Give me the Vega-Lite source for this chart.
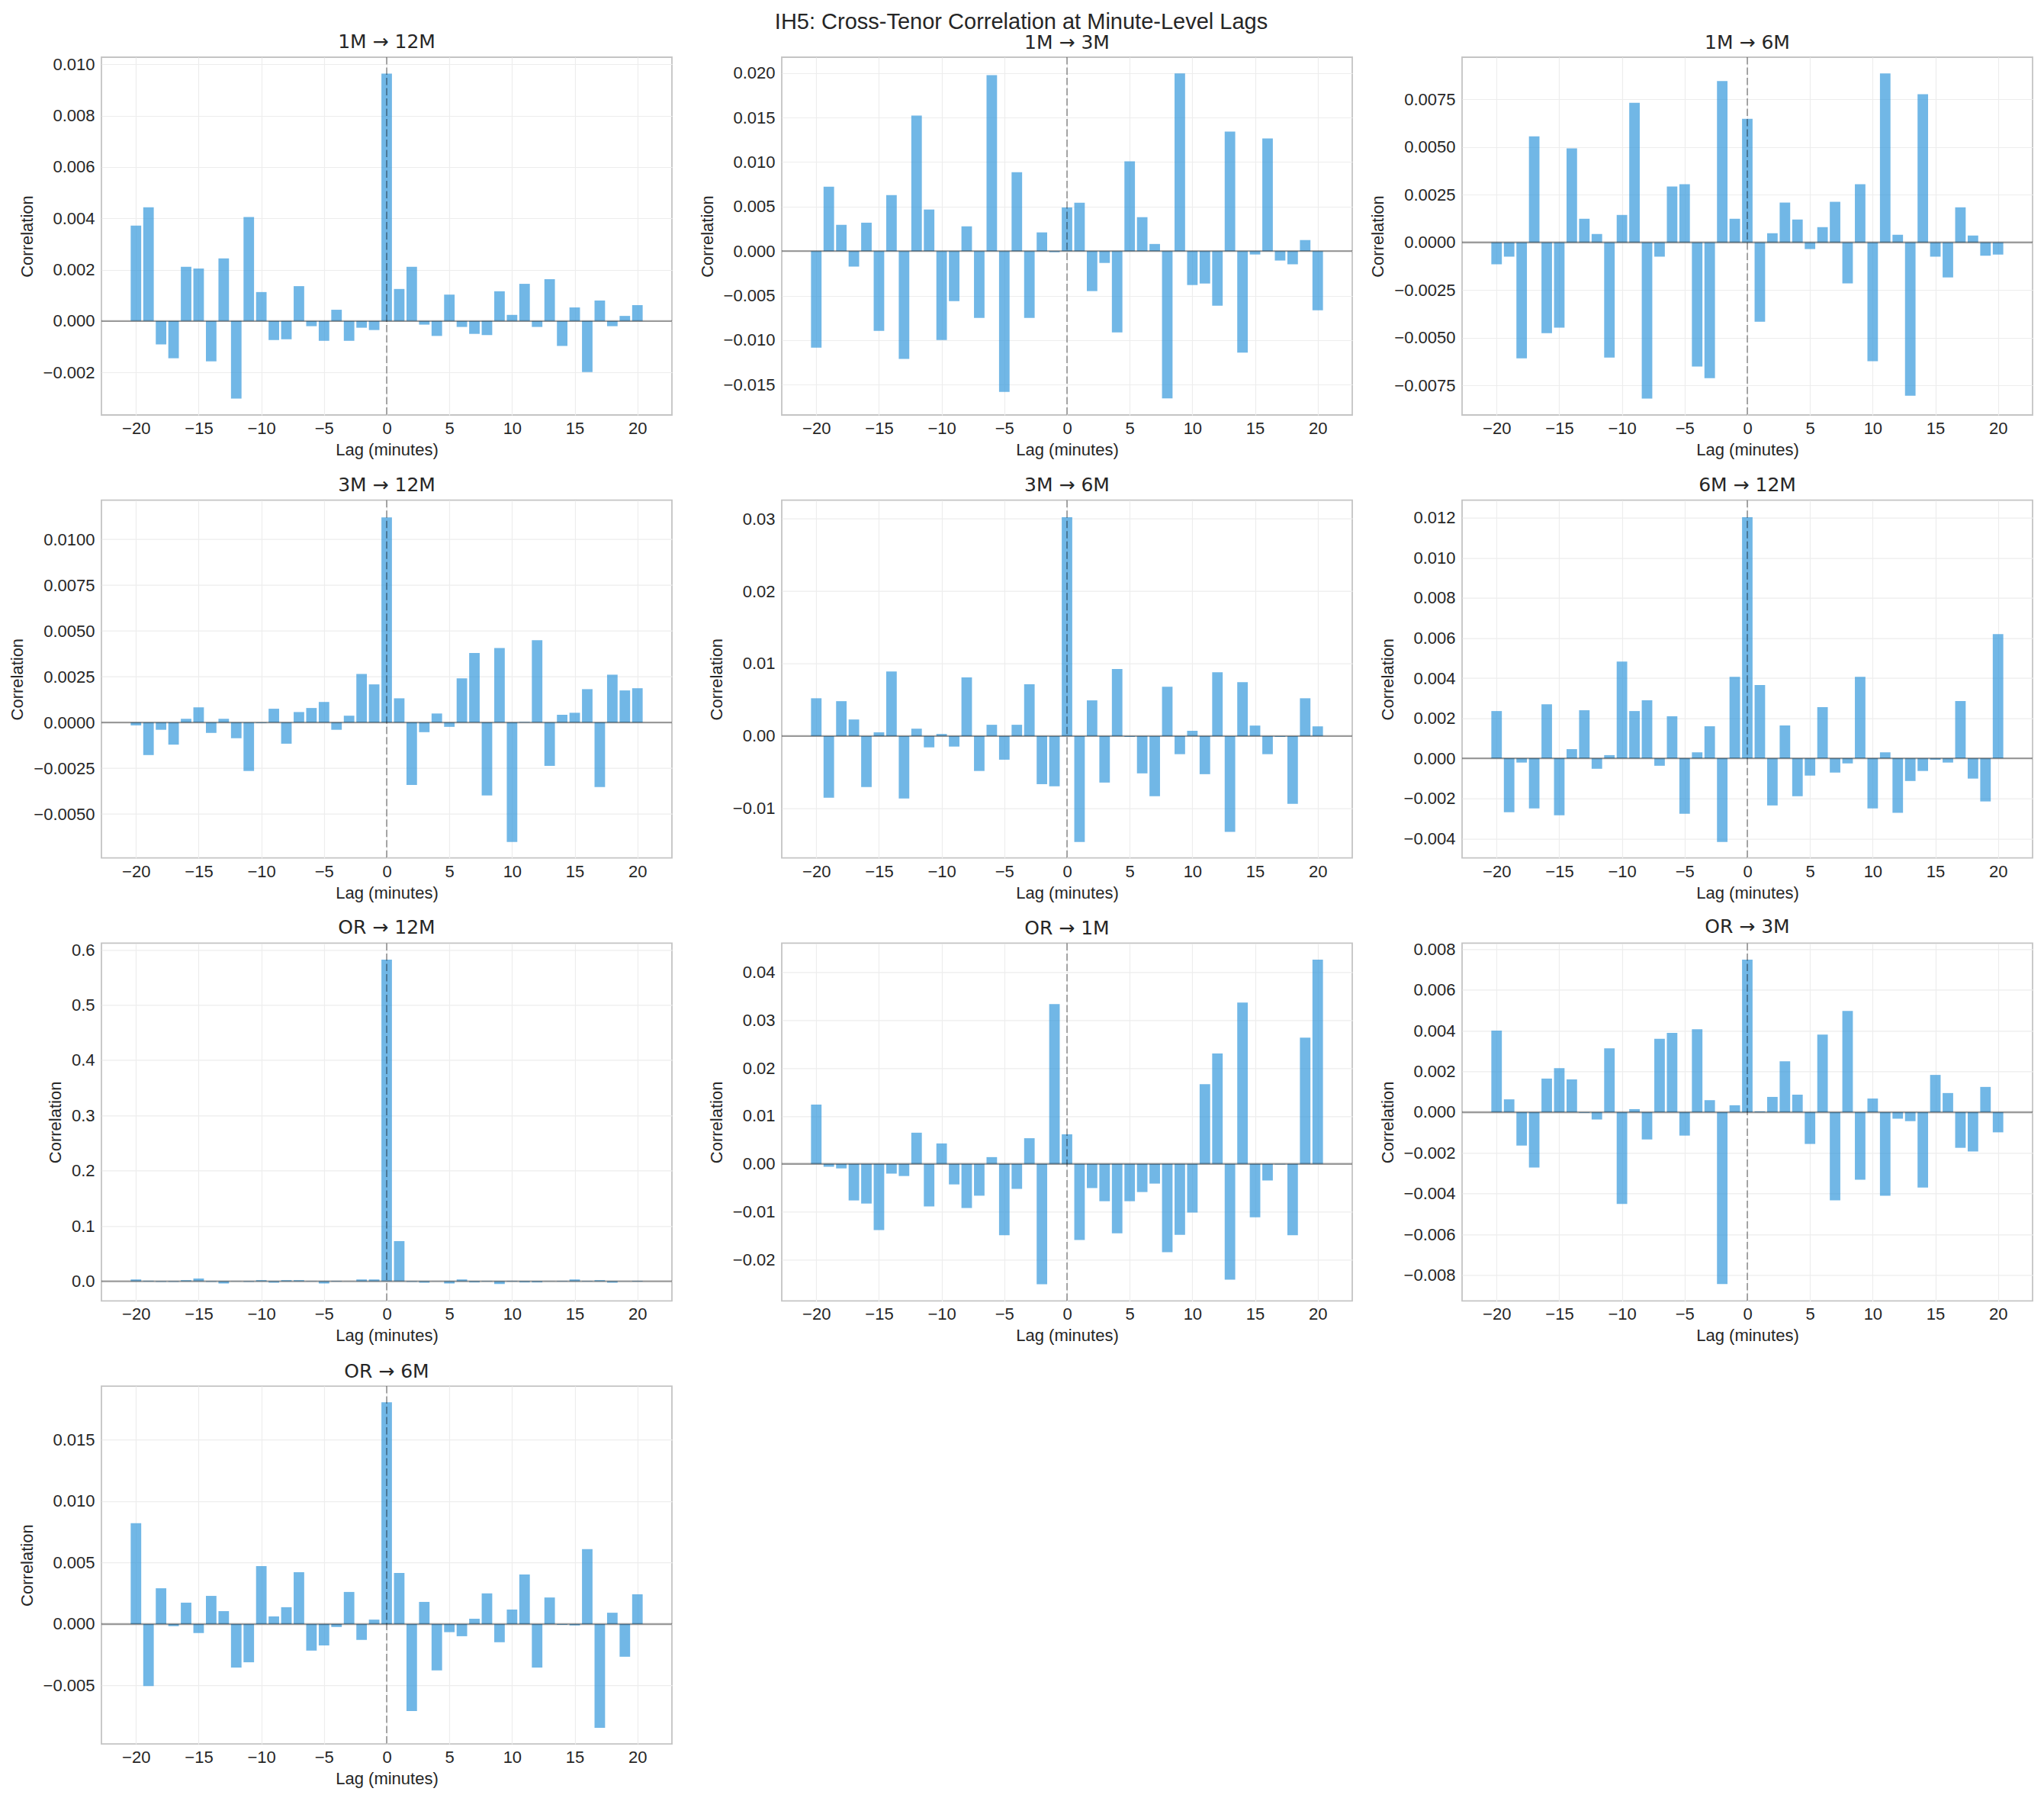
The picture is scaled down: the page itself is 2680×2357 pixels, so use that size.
{
  "$schema": "https://vega.github.io/schema/vega-lite/v6.json",
  "background": "white",
  "padding": {"left": 10, "top": 15, "right": 4, "bottom": 8},
  "title": {
    "text": "IH5: Cross-Tenor Correlation at Minute-Level Lags",
    "font": "Liberation Sans",
    "fontSize": 29,
    "anchor": "middle",
    "frame": "bounds",
    "baseline": "alphabetic",
    "offset": -25
  },
  "datasets": {
    "ref": [{"v": 0}],
    "p1": [
      {"lag": -20, "r": 0.00372}, {"lag": -19, "r": 0.00443}, {"lag": -18, "r": -0.00091}, {"lag": -17, "r": -0.00145}, {"lag": -16, "r": 0.00211},
      {"lag": -15, "r": 0.00205}, {"lag": -14, "r": -0.00157}, {"lag": -13, "r": 0.00244}, {"lag": -12, "r": -0.00302}, {"lag": -11, "r": 0.00405},
      {"lag": -10, "r": 0.00113}, {"lag": -9, "r": -0.00074}, {"lag": -8, "r": -0.00071}, {"lag": -7, "r": 0.00136}, {"lag": -6, "r": -0.0002},
      {"lag": -5, "r": -0.00077}, {"lag": -4, "r": 0.00044}, {"lag": -3, "r": -0.00077}, {"lag": -2, "r": -0.00026}, {"lag": -1, "r": -0.00035},
      {"lag": 0, "r": 0.00964}, {"lag": 1, "r": 0.00125}, {"lag": 2, "r": 0.00211}, {"lag": 3, "r": -0.00014}, {"lag": 4, "r": -0.00058},
      {"lag": 5, "r": 0.00103}, {"lag": 6, "r": -0.00023}, {"lag": 7, "r": -0.0005}, {"lag": 8, "r": -0.00055}, {"lag": 9, "r": 0.00116},
      {"lag": 10, "r": 0.00024}, {"lag": 11, "r": 0.00145}, {"lag": 12, "r": -0.00023}, {"lag": 13, "r": 0.00163}, {"lag": 14, "r": -0.00097},
      {"lag": 15, "r": 0.00053}, {"lag": 16, "r": -0.00199}, {"lag": 17, "r": 0.0008}, {"lag": 18, "r": -0.0002}, {"lag": 19, "r": 0.0002},
      {"lag": 20, "r": 0.00062}
    ],
    "p2": [
      {"lag": -20, "r": -0.01084}, {"lag": -19, "r": 0.00724}, {"lag": -18, "r": 0.00295}, {"lag": -17, "r": -0.00174}, {"lag": -16, "r": 0.00319},
      {"lag": -15, "r": -0.00895}, {"lag": -14, "r": 0.00629}, {"lag": -13, "r": -0.01211}, {"lag": -12, "r": 0.01521}, {"lag": -11, "r": 0.00467},
      {"lag": -10, "r": -0.00999}, {"lag": -9, "r": -0.00561}, {"lag": -8, "r": 0.00278}, {"lag": -7, "r": -0.0075}, {"lag": -6, "r": 0.01976},
      {"lag": -5, "r": -0.0158}, {"lag": -4, "r": 0.00886}, {"lag": -3, "r": -0.0075}, {"lag": -2, "r": 0.0021}, {"lag": -1, "r": -0.00012},
      {"lag": 0, "r": 0.0049}, {"lag": 1, "r": 0.00544}, {"lag": 2, "r": -0.00449}, {"lag": 3, "r": -0.00133}, {"lag": 4, "r": -0.00913},
      {"lag": 5, "r": 0.01007}, {"lag": 6, "r": 0.00381}, {"lag": 7, "r": 0.0008}, {"lag": 8, "r": -0.01654}, {"lag": 9, "r": 0.01994},
      {"lag": 10, "r": -0.00381}, {"lag": 11, "r": -0.00364}, {"lag": 12, "r": -0.00612}, {"lag": 13, "r": 0.01341}, {"lag": 14, "r": -0.0114},
      {"lag": 15, "r": -0.00038}, {"lag": 16, "r": 0.01264}, {"lag": 17, "r": -0.00106}, {"lag": 18, "r": -0.00148}, {"lag": 19, "r": 0.00124},
      {"lag": 20, "r": -0.00665}
    ],
    "p3": [
      {"lag": -20, "r": -0.00115}, {"lag": -19, "r": -0.00075}, {"lag": -18, "r": -0.00609}, {"lag": -17, "r": 0.00557}, {"lag": -16, "r": -0.00477},
      {"lag": -15, "r": -0.00448}, {"lag": -14, "r": 0.00493}, {"lag": -13, "r": 0.00124}, {"lag": -12, "r": 0.00044}, {"lag": -11, "r": -0.00605},
      {"lag": -10, "r": 0.00144}, {"lag": -9, "r": 0.00733}, {"lag": -8, "r": -0.0082}, {"lag": -7, "r": -0.00075}, {"lag": -6, "r": 0.00293},
      {"lag": -5, "r": 0.00305}, {"lag": -4, "r": -0.00652}, {"lag": -3, "r": -0.00713}, {"lag": -2, "r": 0.00847}, {"lag": -1, "r": 0.00124},
      {"lag": 0, "r": 0.00649}, {"lag": 1, "r": -0.00416}, {"lag": 2, "r": 0.00048}, {"lag": 3, "r": 0.00209}, {"lag": 4, "r": 0.0012},
      {"lag": 5, "r": -0.00035}, {"lag": 6, "r": 0.0008}, {"lag": 7, "r": 0.00213}, {"lag": 8, "r": -0.00215}, {"lag": 9, "r": 0.00305},
      {"lag": 10, "r": -0.00624}, {"lag": 11, "r": 0.00887}, {"lag": 12, "r": 0.0004}, {"lag": 13, "r": -0.00805}, {"lag": 14, "r": 0.00778},
      {"lag": 15, "r": -0.00075}, {"lag": 16, "r": -0.00184}, {"lag": 17, "r": 0.00184}, {"lag": 18, "r": 0.00036}, {"lag": 19, "r": -0.0007},
      {"lag": 20, "r": -0.00064}
    ],
    "p4": [
      {"lag": -20, "r": -0.00016}, {"lag": -19, "r": -0.00178}, {"lag": -18, "r": -0.0004}, {"lag": -17, "r": -0.00121}, {"lag": -16, "r": 0.0002},
      {"lag": -15, "r": 0.00083}, {"lag": -14, "r": -0.00057}, {"lag": -13, "r": 0.0002}, {"lag": -12, "r": -0.00086}, {"lag": -11, "r": -0.00265},
      {"lag": -10, "r": -0.00003}, {"lag": -9, "r": 0.00075}, {"lag": -8, "r": -0.00116}, {"lag": -7, "r": 0.00057}, {"lag": -6, "r": 0.00079},
      {"lag": -5, "r": 0.00112}, {"lag": -4, "r": -0.0004}, {"lag": -3, "r": 0.00037}, {"lag": -2, "r": 0.00265}, {"lag": -1, "r": 0.00208},
      {"lag": 0, "r": 0.0112}, {"lag": 1, "r": 0.00132}, {"lag": 2, "r": -0.00341}, {"lag": 3, "r": -0.00053}, {"lag": 4, "r": 0.00049},
      {"lag": 5, "r": -0.00024}, {"lag": 6, "r": 0.00241}, {"lag": 7, "r": 0.00379}, {"lag": 8, "r": -0.00399}, {"lag": 9, "r": 0.00407},
      {"lag": 10, "r": -0.00653}, {"lag": 11, "r": 0.00003}, {"lag": 12, "r": 0.00449}, {"lag": 13, "r": -0.00237}, {"lag": 14, "r": 0.00042},
      {"lag": 15, "r": 0.00053}, {"lag": 16, "r": 0.00182}, {"lag": 17, "r": -0.00353}, {"lag": 18, "r": 0.00261}, {"lag": 19, "r": 0.00175},
      {"lag": 20, "r": 0.00187}
    ],
    "p5": [
      {"lag": -20, "r": 0.00522}, {"lag": -19, "r": -0.00852}, {"lag": -18, "r": 0.00482}, {"lag": -17, "r": 0.00229}, {"lag": -16, "r": -0.00704},
      {"lag": -15, "r": 0.00051}, {"lag": -14, "r": 0.00892}, {"lag": -13, "r": -0.00863}, {"lag": -12, "r": 0.00102}, {"lag": -11, "r": -0.00156},
      {"lag": -10, "r": 0.00029}, {"lag": -9, "r": -0.00145}, {"lag": -8, "r": 0.00809}, {"lag": -7, "r": -0.00482}, {"lag": -6, "r": 0.00156},
      {"lag": -5, "r": -0.00326}, {"lag": -4, "r": 0.00156}, {"lag": -3, "r": 0.00715}, {"lag": -2, "r": -0.00664}, {"lag": -1, "r": -0.00693},
      {"lag": 0, "r": 0.03021}, {"lag": 1, "r": -0.01462}, {"lag": 2, "r": 0.00493}, {"lag": 3, "r": -0.00642}, {"lag": 4, "r": 0.00925},
      {"lag": 5, "r": -0.00011}, {"lag": 6, "r": -0.00515}, {"lag": 7, "r": -0.00831}, {"lag": 8, "r": 0.00682}, {"lag": 9, "r": -0.0025},
      {"lag": 10, "r": 0.00073}, {"lag": 11, "r": -0.00526}, {"lag": 12, "r": 0.00881}, {"lag": 13, "r": -0.01324}, {"lag": 14, "r": 0.00744},
      {"lag": 15, "r": 0.00145}, {"lag": 16, "r": -0.0025}, {"lag": 17, "r": -0.00011}, {"lag": 18, "r": -0.00936}, {"lag": 19, "r": 0.00522},
      {"lag": 20, "r": 0.00134}
    ],
    "p6": [
      {"lag": -20, "r": 0.00236}, {"lag": -19, "r": -0.00269}, {"lag": -18, "r": -0.00021}, {"lag": -17, "r": -0.0025}, {"lag": -16, "r": 0.0027},
      {"lag": -15, "r": -0.00284}, {"lag": -14, "r": 0.00046}, {"lag": -13, "r": 0.0024}, {"lag": -12, "r": -0.00052}, {"lag": -11, "r": 0.00016},
      {"lag": -10, "r": 0.00483}, {"lag": -9, "r": 0.00236}, {"lag": -8, "r": 0.0029}, {"lag": -7, "r": -0.00037}, {"lag": -6, "r": 0.0021},
      {"lag": -5, "r": -0.00276}, {"lag": -4, "r": 0.0003}, {"lag": -3, "r": 0.0016}, {"lag": -2, "r": -0.00417}, {"lag": -1, "r": 0.00407},
      {"lag": 0, "r": 0.01203}, {"lag": 1, "r": 0.00366}, {"lag": 2, "r": -0.00235}, {"lag": 3, "r": 0.00164}, {"lag": 4, "r": -0.00189},
      {"lag": 5, "r": -0.00086}, {"lag": 6, "r": 0.00255}, {"lag": 7, "r": -0.00071}, {"lag": 8, "r": -0.00025}, {"lag": 9, "r": 0.00407},
      {"lag": 10, "r": -0.0025}, {"lag": 11, "r": 0.0003}, {"lag": 12, "r": -0.00272}, {"lag": 13, "r": -0.00113}, {"lag": 14, "r": -0.00063},
      {"lag": 15, "r": -0.00007}, {"lag": 16, "r": -0.00021}, {"lag": 17, "r": 0.00286}, {"lag": 18, "r": -0.00101}, {"lag": 19, "r": -0.00215},
      {"lag": 20, "r": 0.0062}
    ],
    "p7": [
      {"lag": -20, "r": 0.0033}, {"lag": -19, "r": 0.001}, {"lag": -18, "r": -0.001}, {"lag": -17, "r": -0.001}, {"lag": -16, "r": 0.002},
      {"lag": -15, "r": 0.005}, {"lag": -14, "r": -0.001}, {"lag": -13, "r": -0.004}, {"lag": -12, "r": 0.0003}, {"lag": -11, "r": -0.001},
      {"lag": -10, "r": 0.002}, {"lag": -9, "r": -0.0025}, {"lag": -8, "r": 0.002}, {"lag": -7, "r": 0.002}, {"lag": -6, "r": 0.0005},
      {"lag": -5, "r": -0.004}, {"lag": -4, "r": 0.0008}, {"lag": -3, "r": 0.0002}, {"lag": -2, "r": 0.0033}, {"lag": -1, "r": 0.0033},
      {"lag": 0, "r": 0.582}, {"lag": 1, "r": 0.0727}, {"lag": 2, "r": -0.001}, {"lag": 3, "r": -0.0025}, {"lag": 4, "r": 0.0002},
      {"lag": 5, "r": -0.004}, {"lag": 6, "r": 0.0033}, {"lag": 7, "r": -0.002}, {"lag": 8, "r": 0.0008}, {"lag": 9, "r": -0.005},
      {"lag": 10, "r": 0.0008}, {"lag": 11, "r": -0.002}, {"lag": 12, "r": -0.002}, {"lag": 13, "r": 0.0003}, {"lag": 14, "r": 0.0007},
      {"lag": 15, "r": 0.0033}, {"lag": 16, "r": 0.0007}, {"lag": 17, "r": 0.002}, {"lag": 18, "r": -0.0025}, {"lag": 19, "r": 0.0002},
      {"lag": 20, "r": 0.0008}
    ],
    "p8": [
      {"lag": -20, "r": 0.01237}, {"lag": -19, "r": -0.0006}, {"lag": -18, "r": -0.00093}, {"lag": -17, "r": -0.00761}, {"lag": -16, "r": -0.00826},
      {"lag": -15, "r": -0.01379}, {"lag": -14, "r": -0.00202}, {"lag": -13, "r": -0.00252}, {"lag": -12, "r": 0.00651}, {"lag": -11, "r": -0.00886},
      {"lag": -10, "r": 0.00427}, {"lag": -9, "r": -0.00427}, {"lag": -8, "r": -0.00919}, {"lag": -7, "r": -0.00662}, {"lag": -6, "r": 0.00142},
      {"lag": -5, "r": -0.01488}, {"lag": -4, "r": -0.0052}, {"lag": -3, "r": 0.00536}, {"lag": -2, "r": -0.02506}, {"lag": -1, "r": 0.03332},
      {"lag": 0, "r": 0.00618}, {"lag": 1, "r": -0.01587}, {"lag": 2, "r": -0.00503}, {"lag": 3, "r": -0.00777}, {"lag": 4, "r": -0.01445},
      {"lag": 5, "r": -0.00777}, {"lag": 6, "r": -0.00586}, {"lag": 7, "r": -0.0041}, {"lag": 8, "r": -0.01839}, {"lag": 9, "r": -0.01477},
      {"lag": 10, "r": -0.01012}, {"lag": 11, "r": 0.01663}, {"lag": 12, "r": 0.02304}, {"lag": 13, "r": -0.02413}, {"lag": 14, "r": 0.03365},
      {"lag": 15, "r": -0.01111}, {"lag": 16, "r": -0.00345}, {"lag": 17, "r": -0.00011}, {"lag": 18, "r": -0.01488}, {"lag": 19, "r": 0.02632},
      {"lag": 20, "r": 0.04257}
    ],
    "p9": [
      {"lag": -20, "r": 0.00401}, {"lag": -19, "r": 0.00063}, {"lag": -18, "r": -0.00164}, {"lag": -17, "r": -0.00272}, {"lag": -16, "r": 0.00165},
      {"lag": -15, "r": 0.00216}, {"lag": -14, "r": 0.00161}, {"lag": -13, "r": -0.00003}, {"lag": -12, "r": -0.00036}, {"lag": -11, "r": 0.00314},
      {"lag": -10, "r": -0.00451}, {"lag": -9, "r": 0.00015}, {"lag": -8, "r": -0.00134}, {"lag": -7, "r": 0.0036}, {"lag": -6, "r": 0.00389},
      {"lag": -5, "r": -0.00115}, {"lag": -4, "r": 0.00407}, {"lag": -3, "r": 0.00059}, {"lag": -2, "r": -0.00844}, {"lag": -1, "r": 0.00034},
      {"lag": 0, "r": 0.00749}, {"lag": 1, "r": 0.00004}, {"lag": 2, "r": 0.00075}, {"lag": 3, "r": 0.0025}, {"lag": 4, "r": 0.00086},
      {"lag": 5, "r": -0.00156}, {"lag": 6, "r": 0.00381}, {"lag": 7, "r": -0.00433}, {"lag": 8, "r": 0.00497}, {"lag": 9, "r": -0.00332},
      {"lag": 10, "r": 0.00067}, {"lag": 11, "r": -0.0041}, {"lag": 12, "r": -0.00032}, {"lag": 13, "r": -0.00044}, {"lag": 14, "r": -0.0037},
      {"lag": 15, "r": 0.00183}, {"lag": 16, "r": 0.00094}, {"lag": 17, "r": -0.00175}, {"lag": 18, "r": -0.00193}, {"lag": 19, "r": 0.00124},
      {"lag": 20, "r": -0.00099}
    ],
    "p10": [
      {"lag": -20, "r": 0.00821}, {"lag": -19, "r": -0.00504}, {"lag": -18, "r": 0.00291}, {"lag": -17, "r": -0.00017}, {"lag": -16, "r": 0.00174},
      {"lag": -15, "r": -0.00073}, {"lag": -14, "r": 0.00229}, {"lag": -13, "r": 0.00105}, {"lag": -12, "r": -0.00354}, {"lag": -11, "r": -0.00311},
      {"lag": -10, "r": 0.00471}, {"lag": -9, "r": 0.00062}, {"lag": -8, "r": 0.00137}, {"lag": -7, "r": 0.00422}, {"lag": -6, "r": -0.00216},
      {"lag": -5, "r": -0.00174}, {"lag": -4, "r": -0.00024}, {"lag": -3, "r": 0.00261}, {"lag": -2, "r": -0.00129}, {"lag": -1, "r": 0.00036},
      {"lag": 0, "r": 0.01804}, {"lag": 1, "r": 0.00416}, {"lag": 2, "r": -0.00707}, {"lag": 3, "r": 0.0018}, {"lag": 4, "r": -0.00377},
      {"lag": 5, "r": -0.00066}, {"lag": 6, "r": -0.00099}, {"lag": 7, "r": 0.00043}, {"lag": 8, "r": 0.00249}, {"lag": 9, "r": -0.00148},
      {"lag": 10, "r": 0.00118}, {"lag": 11, "r": 0.00403}, {"lag": 12, "r": -0.00354}, {"lag": 13, "r": 0.00216}, {"lag": 14, "r": -0.00006},
      {"lag": 15, "r": -0.00011}, {"lag": 16, "r": 0.00609}, {"lag": 17, "r": -0.00844}, {"lag": 18, "r": 0.00092}, {"lag": 19, "r": -0.00266},
      {"lag": 20, "r": 0.00242}
    ]
  },
  "columns": 3,
  "bounds": "flush",
  "spacing": {"row": 111.7, "column": 144},
  "concat": [
    {
      "title": "1M → 12M",
      "width": 748, "height": 469,
      "layer": [
        {"data": {"name": "p1"}, "mark": {"type": "bar", "color": "#3498db", "opacity": 0.7, "size": 13.8},
          "encoding": {
            "x": {"field": "lag", "type": "quantitative", "scale": {"domain": [-22.45, 22.45], "nice": false, "zero": false}, "axis": {"values": [-20, -15, -10, -5, 0, 5, 10, 15, 20], "title": "Lag (minutes)"}},
            "y": {"field": "r", "type": "quantitative", "scale": {"domain": [-0.00366, 0.01028], "nice": false}, "axis": {"values": [-0.002, 0, 0.002, 0.004, 0.006, 0.008, 0.01], "format": ".3f", "title": "Correlation"}}
          }},
        {"data": {"name": "ref"}, "mark": {"type": "rule", "color": "black", "opacity": 0.37, "strokeWidth": 2.4}, "encoding": {"y": {"field": "v", "type": "quantitative"}}},
        {"data": {"name": "ref"}, "mark": {"type": "rule", "color": "black", "opacity": 0.33, "strokeWidth": 2, "strokeDash": [9.5, 4]}, "encoding": {"x": {"field": "v", "type": "quantitative"}}}
      ]
    },
    {
      "title": "1M → 3M",
      "width": 748, "height": 469,
      "layer": [
        {"data": {"name": "p2"}, "mark": {"type": "bar", "color": "#3498db", "opacity": 0.7, "size": 13.8},
          "encoding": {
            "x": {"field": "lag", "type": "quantitative", "scale": {"domain": [-22.45, 22.45], "nice": false, "zero": false}, "axis": {"values": [-20, -15, -10, -5, 0, 5, 10, 15, 20], "title": "Lag (minutes)"}},
            "y": {"field": "r", "type": "quantitative", "scale": {"domain": [-0.0184, 0.02177], "nice": false}, "axis": {"values": [-0.015, -0.01, -0.005, 0, 0.005, 0.01, 0.015, 0.02], "format": ".3f", "title": "Correlation"}}
          }},
        {"data": {"name": "ref"}, "mark": {"type": "rule", "color": "black", "opacity": 0.37, "strokeWidth": 2.4}, "encoding": {"y": {"field": "v", "type": "quantitative"}}},
        {"data": {"name": "ref"}, "mark": {"type": "rule", "color": "black", "opacity": 0.33, "strokeWidth": 2, "strokeDash": [9.5, 4]}, "encoding": {"x": {"field": "v", "type": "quantitative"}}}
      ]
    },
    {
      "title": "1M → 6M",
      "width": 748, "height": 469,
      "layer": [
        {"data": {"name": "p3"}, "mark": {"type": "bar", "color": "#3498db", "opacity": 0.7, "size": 13.8},
          "encoding": {
            "x": {"field": "lag", "type": "quantitative", "scale": {"domain": [-22.45, 22.45], "nice": false, "zero": false}, "axis": {"values": [-20, -15, -10, -5, 0, 5, 10, 15, 20], "title": "Lag (minutes)"}},
            "y": {"field": "r", "type": "quantitative", "scale": {"domain": [-0.00906, 0.00972], "nice": false}, "axis": {"values": [-0.0075, -0.005, -0.0025, 0, 0.0025, 0.005, 0.0075], "format": ".4f", "title": "Correlation"}}
          }},
        {"data": {"name": "ref"}, "mark": {"type": "rule", "color": "black", "opacity": 0.37, "strokeWidth": 2.4}, "encoding": {"y": {"field": "v", "type": "quantitative"}}},
        {"data": {"name": "ref"}, "mark": {"type": "rule", "color": "black", "opacity": 0.33, "strokeWidth": 2, "strokeDash": [9.5, 4]}, "encoding": {"x": {"field": "v", "type": "quantitative"}}}
      ]
    },
    {
      "title": "3M → 12M",
      "width": 748, "height": 469,
      "layer": [
        {"data": {"name": "p4"}, "mark": {"type": "bar", "color": "#3498db", "opacity": 0.7, "size": 13.8},
          "encoding": {
            "x": {"field": "lag", "type": "quantitative", "scale": {"domain": [-22.45, 22.45], "nice": false, "zero": false}, "axis": {"values": [-20, -15, -10, -5, 0, 5, 10, 15, 20], "title": "Lag (minutes)"}},
            "y": {"field": "r", "type": "quantitative", "scale": {"domain": [-0.0074, 0.01214], "nice": false}, "axis": {"values": [-0.005, -0.0025, 0, 0.0025, 0.005, 0.0075, 0.01], "format": ".4f", "title": "Correlation"}}
          }},
        {"data": {"name": "ref"}, "mark": {"type": "rule", "color": "black", "opacity": 0.37, "strokeWidth": 2.4}, "encoding": {"y": {"field": "v", "type": "quantitative"}}},
        {"data": {"name": "ref"}, "mark": {"type": "rule", "color": "black", "opacity": 0.33, "strokeWidth": 2, "strokeDash": [9.5, 4]}, "encoding": {"x": {"field": "v", "type": "quantitative"}}}
      ]
    },
    {
      "title": "3M → 6M",
      "width": 748, "height": 469,
      "layer": [
        {"data": {"name": "p5"}, "mark": {"type": "bar", "color": "#3498db", "opacity": 0.7, "size": 13.8},
          "encoding": {
            "x": {"field": "lag", "type": "quantitative", "scale": {"domain": [-22.45, 22.45], "nice": false, "zero": false}, "axis": {"values": [-20, -15, -10, -5, 0, 5, 10, 15, 20], "title": "Lag (minutes)"}},
            "y": {"field": "r", "type": "quantitative", "scale": {"domain": [-0.01683, 0.03257], "nice": false}, "axis": {"values": [-0.01, 0, 0.01, 0.02, 0.03], "format": ".2f", "title": "Correlation"}}
          }},
        {"data": {"name": "ref"}, "mark": {"type": "rule", "color": "black", "opacity": 0.37, "strokeWidth": 2.4}, "encoding": {"y": {"field": "v", "type": "quantitative"}}},
        {"data": {"name": "ref"}, "mark": {"type": "rule", "color": "black", "opacity": 0.33, "strokeWidth": 2, "strokeDash": [9.5, 4]}, "encoding": {"x": {"field": "v", "type": "quantitative"}}}
      ]
    },
    {
      "title": "6M → 12M",
      "width": 748, "height": 469,
      "layer": [
        {"data": {"name": "p6"}, "mark": {"type": "bar", "color": "#3498db", "opacity": 0.7, "size": 13.8},
          "encoding": {
            "x": {"field": "lag", "type": "quantitative", "scale": {"domain": [-22.45, 22.45], "nice": false, "zero": false}, "axis": {"values": [-20, -15, -10, -5, 0, 5, 10, 15, 20], "title": "Lag (minutes)"}},
            "y": {"field": "r", "type": "quantitative", "scale": {"domain": [-0.00497, 0.01288], "nice": false}, "axis": {"values": [-0.004, -0.002, 0, 0.002, 0.004, 0.006, 0.008, 0.01, 0.012], "format": ".3f", "title": "Correlation"}}
          }},
        {"data": {"name": "ref"}, "mark": {"type": "rule", "color": "black", "opacity": 0.37, "strokeWidth": 2.4}, "encoding": {"y": {"field": "v", "type": "quantitative"}}},
        {"data": {"name": "ref"}, "mark": {"type": "rule", "color": "black", "opacity": 0.33, "strokeWidth": 2, "strokeDash": [9.5, 4]}, "encoding": {"x": {"field": "v", "type": "quantitative"}}}
      ]
    },
    {
      "title": "OR → 12M",
      "width": 748, "height": 469,
      "layer": [
        {"data": {"name": "p7"}, "mark": {"type": "bar", "color": "#3498db", "opacity": 0.7, "size": 13.8},
          "encoding": {
            "x": {"field": "lag", "type": "quantitative", "scale": {"domain": [-22.45, 22.45], "nice": false, "zero": false}, "axis": {"values": [-20, -15, -10, -5, 0, 5, 10, 15, 20], "title": "Lag (minutes)"}},
            "y": {"field": "r", "type": "quantitative", "scale": {"domain": [-0.0356, 0.6119], "nice": false}, "axis": {"values": [0, 0.1, 0.2, 0.3, 0.4, 0.5, 0.6], "format": ".1f", "title": "Correlation"}}
          }},
        {"data": {"name": "ref"}, "mark": {"type": "rule", "color": "black", "opacity": 0.37, "strokeWidth": 2.4}, "encoding": {"y": {"field": "v", "type": "quantitative"}}},
        {"data": {"name": "ref"}, "mark": {"type": "rule", "color": "black", "opacity": 0.33, "strokeWidth": 2, "strokeDash": [9.5, 4]}, "encoding": {"x": {"field": "v", "type": "quantitative"}}}
      ]
    },
    {
      "title": "OR → 1M",
      "width": 748, "height": 469,
      "layer": [
        {"data": {"name": "p8"}, "mark": {"type": "bar", "color": "#3498db", "opacity": 0.7, "size": 13.8},
          "encoding": {
            "x": {"field": "lag", "type": "quantitative", "scale": {"domain": [-22.45, 22.45], "nice": false, "zero": false}, "axis": {"values": [-20, -15, -10, -5, 0, 5, 10, 15, 20], "title": "Lag (minutes)"}},
            "y": {"field": "r", "type": "quantitative", "scale": {"domain": [-0.02856, 0.04602], "nice": false}, "axis": {"values": [-0.02, -0.01, 0, 0.01, 0.02, 0.03, 0.04], "format": ".2f", "title": "Correlation"}}
          }},
        {"data": {"name": "ref"}, "mark": {"type": "rule", "color": "black", "opacity": 0.37, "strokeWidth": 2.4}, "encoding": {"y": {"field": "v", "type": "quantitative"}}},
        {"data": {"name": "ref"}, "mark": {"type": "rule", "color": "black", "opacity": 0.33, "strokeWidth": 2, "strokeDash": [9.5, 4]}, "encoding": {"x": {"field": "v", "type": "quantitative"}}}
      ]
    },
    {
      "title": "OR → 3M",
      "width": 748, "height": 469,
      "layer": [
        {"data": {"name": "p9"}, "mark": {"type": "bar", "color": "#3498db", "opacity": 0.7, "size": 13.8},
          "encoding": {
            "x": {"field": "lag", "type": "quantitative", "scale": {"domain": [-22.45, 22.45], "nice": false, "zero": false}, "axis": {"values": [-20, -15, -10, -5, 0, 5, 10, 15, 20], "title": "Lag (minutes)"}},
            "y": {"field": "r", "type": "quantitative", "scale": {"domain": [-0.00927, 0.0083], "nice": false}, "axis": {"values": [-0.008, -0.006, -0.004, -0.002, 0, 0.002, 0.004, 0.006, 0.008], "format": ".3f", "title": "Correlation"}}
          }},
        {"data": {"name": "ref"}, "mark": {"type": "rule", "color": "black", "opacity": 0.37, "strokeWidth": 2.4}, "encoding": {"y": {"field": "v", "type": "quantitative"}}},
        {"data": {"name": "ref"}, "mark": {"type": "rule", "color": "black", "opacity": 0.33, "strokeWidth": 2, "strokeDash": [9.5, 4]}, "encoding": {"x": {"field": "v", "type": "quantitative"}}}
      ]
    },
    {
      "title": "OR → 6M",
      "width": 748, "height": 469,
      "layer": [
        {"data": {"name": "p10"}, "mark": {"type": "bar", "color": "#3498db", "opacity": 0.7, "size": 13.8},
          "encoding": {
            "x": {"field": "lag", "type": "quantitative", "scale": {"domain": [-22.45, 22.45], "nice": false, "zero": false}, "axis": {"values": [-20, -15, -10, -5, 0, 5, 10, 15, 20], "title": "Lag (minutes)"}},
            "y": {"field": "r", "type": "quantitative", "scale": {"domain": [-0.00975, 0.01935], "nice": false}, "axis": {"values": [-0.005, 0, 0.005, 0.01, 0.015], "format": ".3f", "title": "Correlation"}}
          }},
        {"data": {"name": "ref"}, "mark": {"type": "rule", "color": "black", "opacity": 0.37, "strokeWidth": 2.4}, "encoding": {"y": {"field": "v", "type": "quantitative"}}},
        {"data": {"name": "ref"}, "mark": {"type": "rule", "color": "black", "opacity": 0.33, "strokeWidth": 2, "strokeDash": [9.5, 4]}, "encoding": {"x": {"field": "v", "type": "quantitative"}}}
      ]
    }
  ],
  "config": {
    "font": "Liberation Sans",
    "view": {"stroke": "#c4c4c4", "strokeWidth": 1.8},
    "axis": {
      "labelFontSize": 22,
      "titleFontSize": 22,
      "labelColor": "#262626",
      "titleColor": "#262626",
      "titleFontWeight": "normal",
      "ticks": false,
      "domain": false,
      "grid": true,
      "gridColor": "#ededed",
      "gridWidth": 1.2,
      "labelOverlap": false,
      "labelFlush": false
    },
    "axisX": {"labelPadding": 7.5, "titlePadding": 7},
    "axisY": {"labelPadding": 9, "titlePadding": 9},
    "title": {
      "font": "DejaVu Sans",
      "fontSize": 25,
      "fontWeight": "normal",
      "color": "#262626",
      "anchor": "middle",
      "frame": "group",
      "baseline": "alphabetic",
      "offset": 5.5
    }
  }
}
